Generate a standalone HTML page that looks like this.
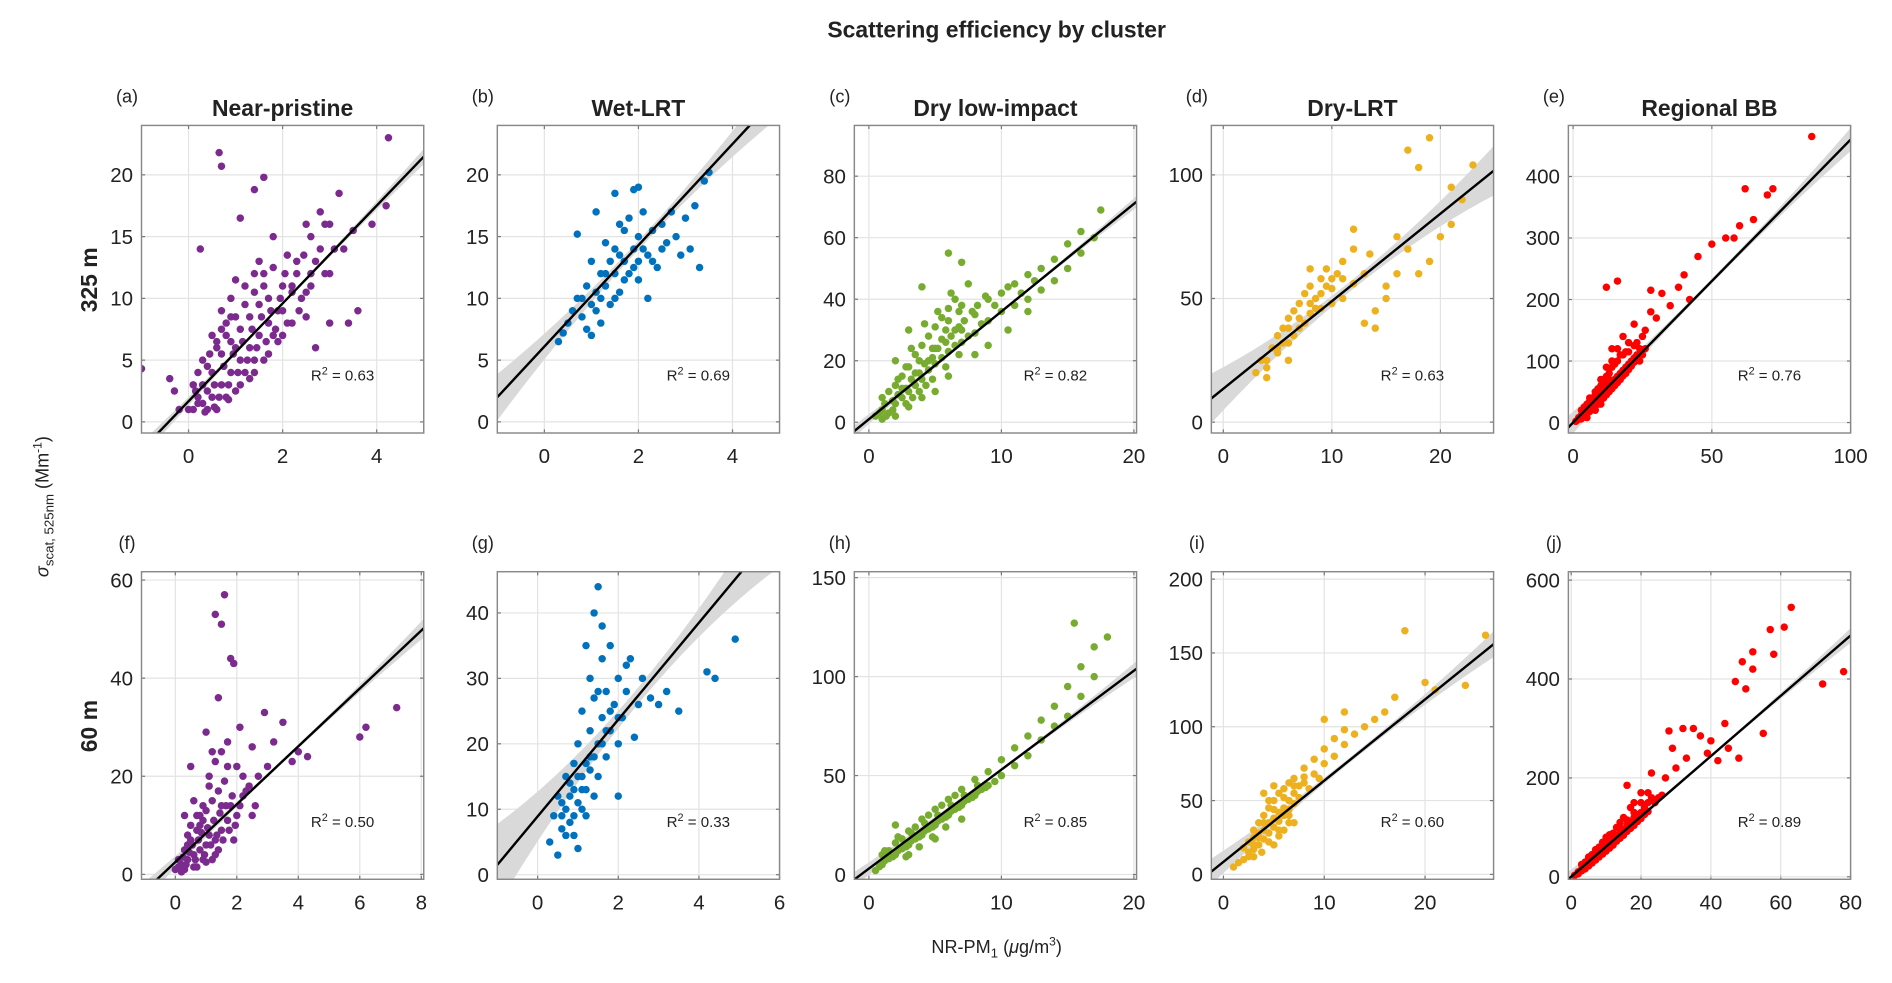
<!DOCTYPE html>
<html><head><meta charset="utf-8"><style>
html,body{margin:0;padding:0;background:#fff}
svg{display:block}
text{font-family:"Liberation Sans",Arial,sans-serif;fill:#222}
</style></head><body>
<svg id="fig" width="1892" height="983" viewBox="0 0 1568 815" xmlns="http://www.w3.org/2000/svg">
<text x="826" y="31" text-anchor="middle" font-size="19" font-weight="bold">Scattering efficiency by cluster</text>
<text transform="translate(80,232) rotate(-90)" text-anchor="middle" font-size="19" font-weight="bold">325 m</text>
<text transform="translate(80,602) rotate(-90)" text-anchor="middle" font-size="19" font-weight="bold">60 m</text>
<text transform="translate(40,420) rotate(-90)" text-anchor="middle" font-size="15"><tspan font-style="italic">σ</tspan><tspan font-size="11" dy="4">scat, 525nm</tspan><tspan dy="-4"> (Mm</tspan><tspan font-size="10" dy="-6">-1</tspan><tspan dy="6">)</tspan></text>
<text x="826" y="790" text-anchor="middle" font-size="15">NR-PM<tspan font-size="11" dy="4">1</tspan><tspan dy="-4"> (</tspan><tspan font-style="italic">μ</tspan>g/m<tspan font-size="10" dy="-6">3</tspan><tspan dy="6">)</tspan></text>
</svg>
<script>
const panelLetters=["a","b","c","d","e","f","g","h","i","j"];
const panelTitles=["Near-pristine","Wet-LRT","Dry low-impact","Dry-LRT","Regional BB","","","","",""];
const r2Labels=["0.63","0.69","0.82","0.63","0.76","0.50","0.33","0.85","0.60","0.89"];
const xRanges=[[-1,5],[-1,5],[-1.1,20.2],[-1.1,24.9],[-1.7,100],[-1.1,8.08],[-1,6],[-1.1,20.2],[-1.2,26.8],[-0.8,80]];
const yRanges=[[-0.9,24],[-0.9,24],[-3.5,96.5],[-4.4,120],[-17,483],[-1,61.7],[-0.7,46.3],[-2.4,153],[-3.3,205],[-5,617]];
const xTicks=[[0,2,4],[0,2,4],[0,10,20],[0,10,20],[0,50,100],[0,2,4,6,8],[0,2,4,6],[0,10,20],[0,10,20],[0,20,40,60,80]];
const yTicks=[[0,5,10,15,20],[0,5,10,15,20],[0,20,40,60,80],[0,50,100],[0,100,200,300,400],[0,20,40,60],[0,10,20,30,40],[0,50,100,150],[0,50,100,150,200],[0,200,400,600]];
const slopes=[3.96,4.1,3.5,3.54,4.6,5.9,7.4,5.0,5.5,6.1];
const intercepts=[1.67,6.1,1,13.5,0,2.5,8.9,3,8.5,0];
const bandWidths=[0.5,1.5,1.5,8,15,1.5,5,3,7,12];
const colors=["#7B2A8E","#0072BD","#77AC30","#EDB120","#FF0000","#7B2A8E","#0072BD","#77AC30","#EDB120","#FF0000"];
const pts_a=[[0,1],[0.2,1.5],[0.3,3],[0.5,2],[0.5,4],[0.7,3],[0.7,5.5],[0.9,4],[0.9,6.5],[1.1,5],[1.1,7.5],[1.3,6],[1.3,8.5],[1.5,7],[1.5,9.5],[1.7,8],[1.7,10],[1.9,9],[2,11],[0.3,5],[0.5,7],[0.7,9],[0.9,10],[1.2,11],[1.4,12],[0.1,3],[-0.2,1],[-0.3,2.5],[0.6,1],[1,2.5],[1.3,3.5],[1.6,5],[1.9,6.5],[2.2,8],[2.4,10],[2.6,12],[2.3,13],[2.8,14],[3,16],[3.2,18.5],[2.8,17],[3.5,15.5],[3.9,16],[4.2,17.5],[4.25,23],[0.65,21.8],[0.7,20.7],[1.6,19.8],[1.4,18.8],[-1,4.3],[-0.4,3.5],[3.4,8],[3.6,9],[3,8],[2.7,6],[2.5,10.5],[2.1,13.5],[1.8,15],[1.1,16.5],[0.25,14],[0.4,1],[0.8,2],[1.2,4],[1.0,6],[0.6,6],[0.8,8],[1.6,11],[1.4,5],[1.8,7],[2.0,9],[0.2,2],[0.4,4.5],[2.6,15],[3.0,12],[3.3,14],[2.2,11],[1.5,13],[1.0,11.5],
[0.1,1],[0.2,4],[0.3,1.5],[0.4,2.5],[0.45,5.5],[0.55,3],[0.6,6.5],[0.65,2],[0.75,4.5],[0.8,7],[0.85,3],[0.95,5.5],[1,8.5],[1.05,4],[1.15,6.5],[1.2,9.5],[1.25,5],[1.35,7.5],[1.4,10.5],[1.45,6],[1.55,8.5],[1.6,12],[1.65,6.5],[1.75,9],[1.8,12.5],[1.85,7.5],[1.95,10],[2.05,12],[2.1,8],[2.2,10.5],[2.3,12],[2.35,9],[2.45,13.5],[2.5,8.5],[2.6,11],[2.7,13],[2.9,12],[3.1,14],[2.9,16],[2.5,16],[0.15,2.5],[0.35,0.8],[0.55,1.2],[0.85,1.8],[1.1,3],[1.4,4],[1.7,5.5],[2,7],[0.9,8.5],[0.7,7.5]];
const pts_b=[[0.3,6.5],[0.5,8],[0.6,9],[0.7,10],[0.8,8.5],[0.9,11],[1,7],[1,9.5],[1.1,10.5],[1.2,12],[1.2,8],[1.3,11],[1.4,13],[1.4,9.5],[1.5,12],[1.5,14],[1.6,10.5],[1.7,13],[1.7,15.5],[1.8,12],[1.8,16.5],[1.9,14],[2,11.5],[2,15],[2.1,17],[2.2,13.5],[2.3,15.5],[2.4,12.5],[2.5,16],[2.6,14.5],[2.7,17],[2.8,15],[3,16.5],[3.1,14],[3.2,17.5],[3.4,19.5],[3.5,20.2],[3.3,12.5],[0.7,15.2],[1.1,17],[1.5,18.5],[1.9,18.8],[0.4,7.2],[0.9,7.5],[1.3,14.5],[2.2,10],[2.9,13.5],[1.6,16],[1.0,13],[2.0,19],
[0.8,10],[1.1,9],[1.3,12],[1.5,10],[1.7,11.5],[1.9,12.5],[2.1,14],[2.3,13],[2.5,14],[1.2,10],[1.6,13.5],[2,13]];
const pts_c=[[0.5,2],[1,4],[1,8],[1.5,3],[1.5,10],[2,6],[2,12],[2.5,8],[2.5,15],[3,10],[3,18],[3.5,12],[3.5,22],[4,14],[4,25],[4.5,17],[4.5,28],[5,19],[5,31],[5.5,21],[5.5,34],[6,23],[6,37],[6.5,25],[6.5,40],[7,26],[7,30],[7.5,28],[7.5,45],[8,29],[8,35],[8.5,32],[9,33],[9,40],[10,36],[10,42],[10.5,30],[11,38],[11,45],[12,40],[12,48],[13,43],[13,50],[14,46],[14,53],[15,50],[15,58],[16,55],[16,62],[17,60],[17.5,69],[4,44],[6,55],[7,52],[3,30],[2,20],[8,22],[9,25],[5,10],[12,36],[3,5],[4,8],[6,15],[1,1],[2,2],[3.5,16],[4.5,20],[5.5,27],[6.5,30],[2.5,11],[5,24],[6,33],[7,38],
[1.2,6],[1.8,7],[2.2,9],[2.8,11],[3.2,14],[3.8,16],[4.2,19],[4.8,21],[5.2,24],[5.8,26],[6.2,28],[6.8,31],[7.2,33],[7.8,36],[8.2,38],[8.8,41],[9.5,38],[10.5,44],[11.5,42],[12.5,46],[2.2,14],[2.8,18],[3.2,24],[3.8,20],[4.2,32],[4.8,24],[5.2,36],[5.8,30],[6.2,42],[6.8,36],[1.8,4],[2.8,6],[3.8,10],[4.8,14],[5.8,18],[6.8,22],[1.3,2],[0.8,3],[3.3,8],[4.3,12]];
const pts_d=[[3,20],[3.5,25],[4,22],[4.5,30],[5,28],[5,35],[5.5,38],[6,32],[6,42],[6.5,45],[7,38],[7,48],[7.5,52],[8,44],[8,55],[8.5,50],[9,46],[9,58],[9.5,62],[10,54],[10,48],[10.5,60],[11,65],[11,50],[12,56],[12,70],[13,40],[13,60],[13.5,68],[14,38],[14,45],[15,55],[15,50],[16,60],[16,75],[17,70],[17,110],[18,60],[18,103],[19,65],[19,115],[20,75],[21,80],[21,95],[22,90],[23,104],[12,78],[8,62],[6,25],[4,18],
[5,30],[6,38],[7,42],[8,48],[9,52],[10,58],[7.5,40],[8.5,46],[6.5,35],[5.5,32],[9.5,55],[11,58],[4,25]];
const pts_e=[[1,2],[2,8],[3,10],[3,20],[4,15],[5,18],[5,30],[6,25],[7,28],[7,40],[8,35],[9,38],[9,55],[10,45],[11,50],[11,65],[12,55],[13,60],[13,80],[14,65],[15,70],[15,95],[16,75],[17,80],[17,110],[18,85],[19,90],[20,95],[20,130],[21,100],[22,105],[23,110],[24,120],[25,140],[22,160],[18,140],[14,120],[12,220],[16,230],[26,150],[28,180],[30,170],[32,210],[35,190],[38,220],[40,240],[42,200],[45,270],[50,290],[55,300],[60,320],[62,380],[65,330],[70,370],[72,380],[86,465],[58,300],[28,215],[5,8],[8,20],[10,30],[4,25],[6,35],[8,50],[10,60],[12,75],[14,90],[16,100],[19,115],
[2,5],[3,6],[4,10],[5,14],[6,18],[7,22],[8,26],[9,30],[10,36],[11,40],[12,45],[13,50],[14,55],[15,60],[16,65],[17,70],[18,76],[19,80],[20,86],[21,92],[22,98],[23,130],[24,100],[6,40],[8,45],[10,70],[12,90],[14,100],[16,120],[18,110],[20,115],[22,125],[25,110],[26,120],[3,12],[4,20],[7,32],[9,45],[11,58],[13,70]];
const pts_f=[[0,1],[0.1,3],[0.2,2],[0.3,5],[0.4,3],[0.5,7],[0.6,4],[0.7,9],[0.8,5],[0.9,11],[1,6],[1,13],[1.1,8],[1.2,15],[1.3,7],[1.4,17],[1.5,9],[1.6,19],[1.7,11],[1.8,14],[2,12],[2,22],[2.2,16],[2.4,18],[2.5,26],[2.7,20],[2.9,33],[3,22],[3.2,27],[3.5,31],[3.8,23],[4,25],[4.3,24],[6,28],[6.2,30],[7.2,34],[1.6,57],[1.3,53],[1.5,51],[1.8,44],[1.9,43],[1.4,36],[1,29],[0.5,22],[0.3,12],[0.6,15],[1.2,25],[2.1,30],[2.6,14],[1.9,7],[0.2,0.5],[0.7,1.5],[1.2,3],[0.4,8],[0.8,10],[1.1,18],[1.5,14],[1.7,22],[0.9,3],[1.4,5],
[0.1,1.5],[0.25,3.5],[0.35,2],[0.45,4.5],[0.55,6],[0.65,3],[0.75,7],[0.85,8.5],[0.95,4],[1.05,9.5],[1.15,6],[1.25,11],[1.35,8],[1.45,12.5],[1.55,7],[1.65,14],[1.75,9],[1.85,16],[1.95,10],[2.1,14],[2.3,17],[2.5,12],[0.5,10],[0.7,12],[0.9,14],[1.1,20],[1.3,23],[1.5,25],[1.7,27],[2.2,20],[0.3,1],[0.6,1.5],[1,2.5],[1.3,4],[0.4,6],[0.8,12]];
const pts_g=[[0.3,5],[0.4,9],[0.5,12],[0.6,7],[0.7,10],[0.8,14],[0.9,6],[0.9,17],[1,11],[1,20],[1.1,13],[1.1,25],[1.2,9],[1.2,17],[1.3,22],[1.3,30],[1.4,12],[1.4,27],[1.4,40],[1.5,15],[1.5,20],[1.5,44],[1.6,24],[1.6,33],[1.7,18],[1.7,28],[1.8,22],[1.8,35],[1.9,26],[2,20],[2,30],[2.1,24],[2.2,28],[2.3,33],[2.4,21],[2.5,26],[2.6,30],[2.8,27],[3,26],[3.2,28],[3.5,25],[4.2,31],[4.4,30],[4.9,36],[0.5,3],[1.0,4],[0.7,15],[1.2,35],[1.6,38],[2.0,12],[0.6,11],[0.8,8],[1.1,15],[1.3,18],[0.9,13],
[0.6,9],[0.8,12],[1,15],[1.2,13],[1.4,18],[1.6,20],[1.8,25],[2,24],[1.1,10],[1.3,16],[0.9,9],[1.5,28],[0.7,6],[1.7,22],[2.2,32]];
const pts_h=[[0.5,2],[1,5],[1,10],[1.5,8],[2,10],[2,16],[2.5,13],[3,15],[3,22],[3.5,18],[4,20],[4,28],[4.5,23],[5,25],[5,33],[5.5,28],[6,30],[6,38],[6.5,33],[7,35],[7,43],[7.5,38],[8,40],[8,48],[8.5,43],[9,45],[9,52],[10,50],[10,58],[11,55],[11,64],[12,60],[12,70],[13,68],[13,78],[14,75],[14,85],[15,80],[15,95],[16,90],[16,105],[17,100],[17,115],[18,120],[15.5,127],[3,10],[5,18],[7,28],[2,25],[1.5,12],[2.5,18],[3.5,24],[4.5,30],[5.5,35],[6.5,40],
[0.8,4],[1.2,7],[1.8,9],[2.2,12],[2.8,14],[3.2,17],[3.8,19],[4.2,22],[4.8,24],[5.2,27],[5.8,29],[6.2,32],[6.8,34],[7.2,37],[7.8,39],[8.2,42],[8.8,44],[9.5,47],[1.2,12],[2.2,19],[3.2,21],[4.2,26],[5.2,30],[6.2,35],[7.2,40],[8.2,45],[2.8,9],[3.8,14],[4.8,19],[5.8,24]];
const pts_i=[[1,5],[1.5,8],[2,10],[2,18],[2.5,15],[3,20],[3,30],[3.5,25],[4,30],[4,40],[4.5,35],[5,38],[5,50],[5.5,42],[6,45],[6,58],[6.5,50],[7,55],[7,65],[7.5,60],[8,62],[8,72],[9,68],[9,78],[10,75],[10,85],[11,80],[11,92],[12,88],[12,98],[13,95],[14,100],[15,105],[16,110],[17,120],[18,165],[20,130],[21,125],[24,128],[26,162],[12,110],[10,105],[5,20],[6,30],[3,12],[4,55],[7,35],[3.5,35],[4.5,45],[5.5,30],[6.5,40],[5,60],
[2.5,12],[3,17],[3.5,20],[4,24],[4.5,28],[5,32],[5.5,36],[6,40],[6.5,44],[7,48],[7.5,52],[3,25],[4,35],[5,44],[6,52],[7,60],[8,66],[4.5,50],[5.5,55],[6.5,62],[2.5,22],[3.5,28],[4.5,22],[5.5,26],[6.5,35],[3.8,15],[8.5,58],[9.5,65]];
const pts_j=[[1,3],[2,10],[3,15],[3,25],[4,22],[5,28],[5,40],[6,35],[7,40],[7,55],[8,50],[9,55],[9,70],[10,62],[11,68],[11,85],[12,75],[13,82],[13,100],[14,90],[15,95],[15,120],[16,105],[17,110],[17,140],[18,120],[19,125],[20,130],[20,170],[21,140],[22,150],[23,160],[23,210],[25,160],[27,200],[28,295],[29,260],[30,220],[32,300],[33,240],[35,300],[37,285],[39,250],[40,275],[42,235],[44,310],[45,260],[47,395],[48,240],[49,435],[50,380],[52,455],[52,420],[55,290],[57,500],[58,450],[61,505],[63,545],[72,390],[78,415],[10,80],[14,110],[18,150],[16,185],[6,45],
[2,6],[3,12],[4,16],[5,22],[6,28],[7,34],[8,40],[9,46],[10,52],[11,58],[12,64],[13,72],[14,78],[15,84],[16,92],[17,98],[18,104],[19,112],[20,118],[21,126],[22,132],[4,30],[6,42],[8,60],[10,72],[12,88],[14,100],[16,115],[18,130],[20,150],[22,170],[24,150],[26,165]];
const allPoints=[pts_a,pts_b,pts_c,pts_d,pts_e,pts_f,pts_g,pts_h,pts_i,pts_j];

const NS="http://www.w3.org/2000/svg";
const svg=document.getElementById('fig');
const lefts=[117,412,708,1004,1300], tops=[104,474], W=234, H=255;
function mk(tag,attrs,parent){const e=document.createElementNS(NS,tag);for(const k in attrs)e.setAttribute(k,attrs[k]);(parent||svg).appendChild(e);return e;}
for(let p=0;p<10;p++){
  const L=lefts[p%5], T=tops[Math.floor(p/5)];
  const [x0,x1]=xRanges[p],[y0,y1]=yRanges[p];
  const sx=v=>L+(v-x0)/(x1-x0)*W, sy=v=>T+H-(v-y0)/(y1-y0)*H;
  const g=mk('g',{});
  
  
  const cid='clip'+p;
  const cp=mk('clipPath',{id:cid},g);mk('rect',{x:L,y:T,width:W,height:H},cp);
  xTicks[p].forEach(t=>{const x=sx(t);
    const gl=mk('line',{x1:x,x2:x,y1:T,y2:T+H,stroke:'#e3e3e3','stroke-width':1},g);
    
    const tl=mk('text',{x:x,y:T+H+25,'text-anchor':'middle','font-size':17},g);tl.textContent=t;
    
    mk('line',{x1:x,x2:x,y1:T+H,y2:T+H-3,stroke:'#777'},g);mk('line',{x1:x,x2:x,y1:T,y2:T+3,stroke:'#777'},g);});
  yTicks[p].forEach(t=>{const y=sy(t);
    const gl=mk('line',{x1:L,x2:L+W,y1:y,y2:y,stroke:'#e3e3e3','stroke-width':1},g);
    
    const tl=mk('text',{x:L-7,y:y+6,'text-anchor':'end','font-size':17},g);tl.textContent=t;
    
    mk('line',{x1:L,x2:L+3,y1:y,y2:y,stroke:'#777'},g);mk('line',{x1:L+W,x2:L+W-3,y1:y,y2:y,stroke:'#777'},g);});
  const cg=mk('g',{'clip-path':'url(#'+cid+')'},g);
  const m=slopes[p],b=intercepts[p],bw=bandWidths[p];
  const xm=(x0+x1)/2, hr=(x1-x0)/2;
  const up=[],dn=[];
  for(let i=0;i<=20;i++){const x=x0+(x1-x0)*i/20;const w=bw*(0.25+((x-xm)/hr)**2);up.push(sx(x)+','+sy(m*x+b+w));dn.unshift(sx(x)+','+sy(m*x+b-w));}
  const band=mk('polygon',{points:up.concat(dn).join(' '),fill:'#d9d9d9'},cg);
  
  allPoints[p].forEach(pt=>{const c=mk('circle',{cx:sx(pt[0]),cy:sy(pt[1]),r:3.1,fill:colors[p]},cg);
    });
  const ln=mk('line',{x1:sx(x0),y1:sy(m*x0+b),x2:sx(x1),y2:sy(m*x1+b),stroke:'#000','stroke-width':2},cg);
  
  const box=mk('rect',{x:L,y:T,width:W,height:H,fill:'none',stroke:'#888','stroke-width':1.2},g);
  
  const r=mk('text',{x:L+0.6*W,y:T+0.81*H+5,'font-size':12.5},g);
  r.innerHTML='R<tspan font-size="9" dy="-5">2</tspan><tspan dy="5"> = '+r2Labels[p]+'</tspan>';
  
  const lt=mk('text',{x:L-12,y:T-19,'text-anchor':'middle','font-size':15},g);lt.textContent='('+panelLetters[p]+')';
  
  if(panelTitles[p]){const tt=mk('text',{x:L+W/2,y:T-8,'text-anchor':'middle','font-size':19,'font-weight':'bold'},g);tt.textContent=panelTitles[p];
    }
}
</script>
</body></html>
